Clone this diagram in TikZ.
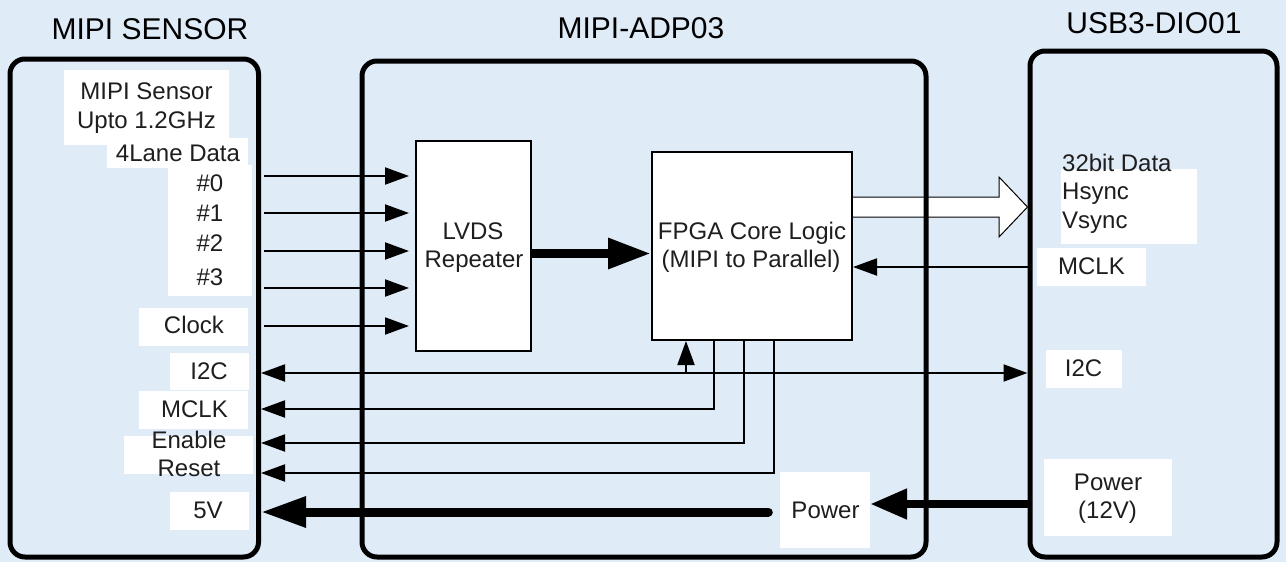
\documentclass[tikz,border=0pt]{standalone}
\usepackage{fontspec}
\setmainfont{Liberation Sans}
\usetikzlibrary{arrows.meta,calc}
\definecolor{bgblue}{RGB}{224,235,248}
\definecolor{ink}{RGB}{30,30,30}
\pgfdeclarelayer{back}
\pgfsetlayers{back,main}
\begin{document}
\begin{tikzpicture}[x=1pt,y=-1pt,
  board/.style={draw=black, line width=5pt, rounded corners=15pt, inner sep=0pt},
  block/.style={draw=black, fill=white, line width=2pt, inner sep=0pt},
  patch/.style={fill=white, inner sep=0pt},
  txt/.style={font=\fontsize{24}{29}\selectfont, text=ink, inner sep=0pt, anchor=base},
  txtl/.style={txt, anchor=base west},
  ttl/.style={font=\fontsize{30}{36}\selectfont, text=black, inner sep=0pt, anchor=base},
  sig/.style={line width=2pt, -{Triangle[length=24pt,width=17pt]}},
  bisig/.style={line width=2pt, {Triangle[length=24pt,width=17pt]}-{Triangle[length=24pt,width=17pt]}},
  hollow/.style={draw=black, fill=white, line width=1pt, line join=miter}
]
\useasboundingbox (0,0) rectangle (1286,562);
\begin{pgfonlayer}{back}
  \fill[bgblue] (0,0) rectangle (1286,562);
\end{pgfonlayer}

% boards
\node[board, minimum width=248.5pt, minimum height=498pt] (sensor) at (134.25,308) {};
\node[board, minimum width=564pt, minimum height=496pt] (adp) at (644,309) {};
\node[board, minimum width=247pt, minimum height=506pt] (usb) at (1153.5,304) {};

% titles
\node[ttl] (t1) at (150,39) {MIPI SENSOR};
\node[ttl] (t2) at (641,38) {MIPI-ADP03};
\node[ttl] (t3) at (1154,34) {USB3-DIO01};

% blocks
\node[block, minimum width=115pt, minimum height=210pt] (lvds) at (473.5,246) {};
\node[block, minimum width=200pt, minimum height=188pt] (fpga) at (752,246) {};
\node[txt] (lv1) at (473,239) {LVDS};
\node[txt] (lv2) at (474,267) {Repeater};
\node[txt] (fp1) at (752,239) {FPGA Core Logic};
\node[txt] (fp2) at (751,267) {(MIPI to Parallel)};

% left patches and labels
\node[patch, minimum width=165pt, minimum height=75pt] (p1) at (146.5,107.5) {};
\node[patch, minimum width=141pt, minimum height=30pt] (p2) at (177.5,153) {};
\node[patch, minimum width=84pt, minimum height=131pt] (p3) at (210,230.5) {};
\node[patch, minimum width=109pt, minimum height=38pt] (p4) at (193.5,327) {};
\node[patch, minimum width=79pt, minimum height=37pt] (p5) at (209.5,371.5) {};
\node[patch, minimum width=109pt, minimum height=38pt] (p6) at (193.5,410) {};
\node[patch, minimum width=129pt, minimum height=38pt] (p7) at (188.5,455) {};
\node[patch, minimum width=79pt, minimum height=38pt] (p8) at (209.5,511) {};

\node[txt] (l1) at (146.5,99) {MIPI Sensor};
\node[txt] (l2) at (146.5,128) {Upto 1.2GHz};
\node[txt] (l3) at (178,161) {4Lane Data};
\node[txt] (l4) at (210,191) {\#0};
\node[txt] (l5) at (210,221) {\#1};
\node[txt] (l6) at (210,251) {\#2};
\node[txt] (l7) at (210,285) {\#3};
\node[txt] (l8) at (194,333) {Clock};
\node[txt] (l9) at (209,379) {I2C};
\node[txt] (l10) at (194.5,417) {MCLK};
\node[txt] (l11) at (189,448) {Enable};
\node[txt] (l12) at (189,476) {Reset};
\node[txt] (l13) at (208,518) {5V};

% right patches and labels
\node[patch, minimum width=136pt, minimum height=75pt] (q1) at (1129,206.5) {};
\node[patch, minimum width=109pt, minimum height=38pt] (q2) at (1091.5,267) {};
\node[patch, minimum width=76pt, minimum height=38pt] (q3) at (1084,369) {};
\node[patch, minimum width=128pt, minimum height=77pt] (q4) at (1108,497.5) {};
\node[txtl] (r1) at (1062,171) {32bit Data};
\node[txtl] (r2) at (1062,199) {Hsync};
\node[txtl] (r3) at (1062,228) {Vsync};
\node[txt] (r4) at (1091.5,274) {MCLK};
\node[txt] (r5) at (1083.5,376) {I2C};
\node[txt] (r6) at (1108,490) {Power};
\node[txt] (r7) at (1107.5,518) {(12V)};

% middle power label
\node[patch, minimum width=90pt, minimum height=76pt] (pwr) at (825,510) {};
\node[txt] (pw) at (825.5,518) {Power};

% data lanes into LVDS
\foreach \yy in {176,213,251,288,326}
  \draw[sig, shorten <=3pt, shorten >=6pt] (sensor.east |- 0,\yy) -- (lvds.west |- 0,\yy);

% LVDS -> FPGA
\draw[line width=9pt, -{Triangle[length=43pt,width=29pt]}] (lvds.east |- 0,253.5) -- (fpga.west |- 0,253.5);

% hollow parallel-data arrow (behind board border)
\begin{pgfonlayer}{back}
\filldraw[hollow] (fpga.east |- 0,197) -- (999,197) -- (999,177) -- (usb.west |- 0,207)
  -- (999,237) -- (999,217) -- (fpga.east |- 0,217);
\end{pgfonlayer}

% MCLK into FPGA
\draw[sig] (usb.west |- 0,267) -- (fpga.east |- 0,267);

% I2C
\draw[bisig] (sensor.east |- 0,373) -- (usb.west |- 0,373);
\coordinate (i2cj) at (686,373);
\draw[sig] (i2cj) -- (i2cj |- fpga.south);

% FPGA outputs to sensor
\draw[sig] (713.5,0 |- fpga.south) |- (sensor.east |- 0,409);
\draw[sig] (744,0 |- fpga.south) |- (sensor.east |- 0,443);
\draw[sig] (774,0 |- fpga.south) |- (sensor.east |- 0,473);

% power
\draw[line width=9pt, line cap=round, -{Triangle[length=45pt,width=29pt]}, shorten <=11.5pt]
  (pwr.west |- 0,512) -- (sensor.east |- 0,512);
\draw[line width=8pt, -{Triangle[length=37pt,width=29pt]}] (usb.west |- 0,504) -- (pwr.east |- 0,504);
\end{tikzpicture}
\end{document}
